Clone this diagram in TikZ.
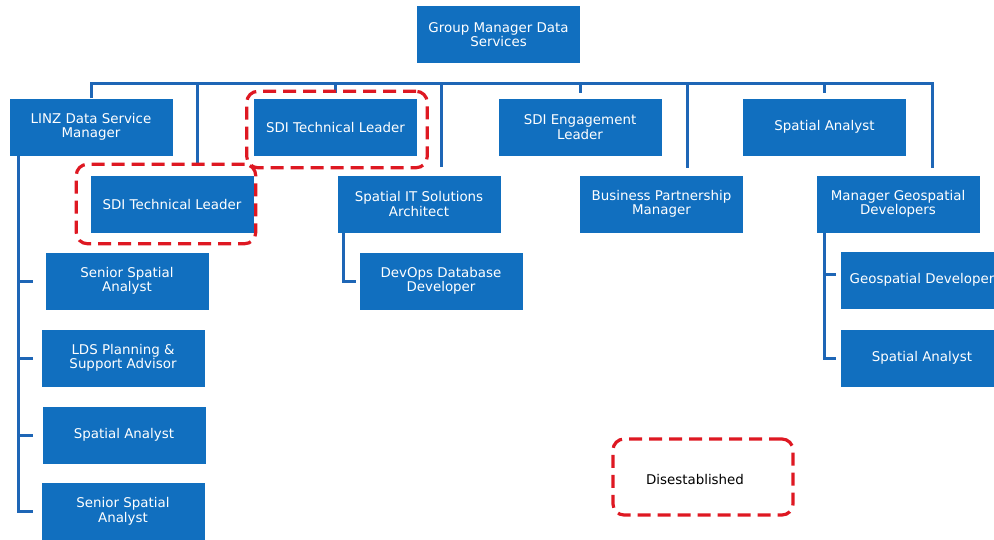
\documentclass[tikz,border=0pt]{standalone}
\usepackage{fontspec}
\setmainfont{DejaVu Sans}
\usepackage{tikz}
\usetikzlibrary{positioning}
\usetikzlibrary{fit}
\usetikzlibrary{calc}
\definecolor{postblue}{RGB}{17,111,191}
\definecolor{linkblue}{RGB}{30,102,182}
\definecolor{cutred}{RGB}{222,24,34}
\tikzset{post/.style={fill=postblue, text=white, align=center, minimum width=163pt, minimum height=57pt, inner sep=0pt, font=\fontsize{13.4}{14.5}\selectfont},
	link/.style={draw=linkblue, line width=3pt},
	cut/.style={draw=cutred, line width=3.2pt, dash pattern=on 13pt off 7pt, rounded corners=11pt}}

\begin{document}
\begin{tikzpicture}[x=1pt,y=-1pt]
			\useasboundingbox (0,0) rectangle (994,539);
			\node at (498.5,34.5) (gm) [post] {Group Manager Data\\Services} ;
			\node at (91,127) (linz) [post] {LINZ Data Service\\Manager} ;
			\node at (335.5,127) (sdiA) [post] {SDI Technical Leader} ;
			\node at (580,127) (sdie) [post] {SDI Engagement\\Leader} ;
			\node at (824.5,127) (spa) [post] {Spatial Analyst} ;
			\node at (172,204) (sdiB) [post] {SDI Technical Leader} ;
			\node at (419,204) (spit) [post] {Spatial IT Solutions\\Architect} ;
			\node at (661.5,204) (bpm) [post] {Business Partnership\\Manager} ;
			\node at (898,204) (mgd) [post] {Manager Geospatial\\Developers} ;
			\node at (127,281) (ssa1) [post] {Senior Spatial\\Analyst} ;
			\node at (123,358) (lds) [post] {LDS Planning \&\\Support Advisor} ;
			\node at (124,435) (sa) [post] {Spatial Analyst} ;
			\node at (123,511.5) (ssa2) [post] {Senior Spatial\\Analyst} ;
			\node at (441,281) (devops) [post] {DevOps Database\\Developer} ;
			\node at (922,280) (geo) [post] {Geospatial Developer} ;
			\node at (922,358) (sa2) [post] {Spatial Analyst} ;
			\coordinate (bus) at (0,83); \coordinate (tickL) at (33,0);
			\coordinate (sdiBtop) at (197,166); \coordinate (spittop) at (441,167);
			\coordinate (bpmtop) at (687,168); \coordinate (mgdtop) at (932,168);
			\draw[link] (linz.north) |- (mgdtop |- bus) -- (mgdtop);
			\foreach \c in {sdiBtop,spittop,bpmtop} \draw[link] (\c |- bus) -- (\c);
			\foreach \n in {sdiA,sdie,spa} \draw[link, shorten >=5pt] (\n.north |- bus) -- (\n.north);
			\foreach \n in {ssa1,lds,sa,ssa2} \draw[link] ([xshift=9pt]linz.south west) |- (\n.west -| tickL);
			\draw[link, shorten >=3pt] ([xshift=6pt]spit.south west) |- (devops.west);
			\draw[link, shorten >=4pt] ([xshift=8pt]mgd.south west) |- ([yshift=6pt]geo.west);
			\draw[link, shorten >=4pt] ([xshift=8pt]mgd.south west) |- (sa2.west);
			\coordinate (cutAnw) at ($(sdiA.north west)+(-7,-7)$); \coordinate (cutAse) at ($(sdiA.south east)+(10,12)$);
			\coordinate (cutBnw) at ($(sdiB.north west)+(-14,-11)$); \coordinate (cutBse) at ($(sdiB.south east)+(2,11)$);
			\node (cutA) [cut, inner sep=0pt, fit=(cutAnw) (cutAse)] {};
			\node (cutB) [cut, inner sep=0pt, fit=(cutBnw) (cutBse)] {};
			\node at (695,479) (gone) [font=\fontsize{13.4}{14.5}\selectfont] {Disestablished};
			\coordinate (goneNW) at (613,439); \coordinate (goneSE) at (793,515);
			\node (goneframe) [cut, inner sep=0pt, fit=(goneNW) (goneSE)] {};
\end{tikzpicture}
\end{document}
